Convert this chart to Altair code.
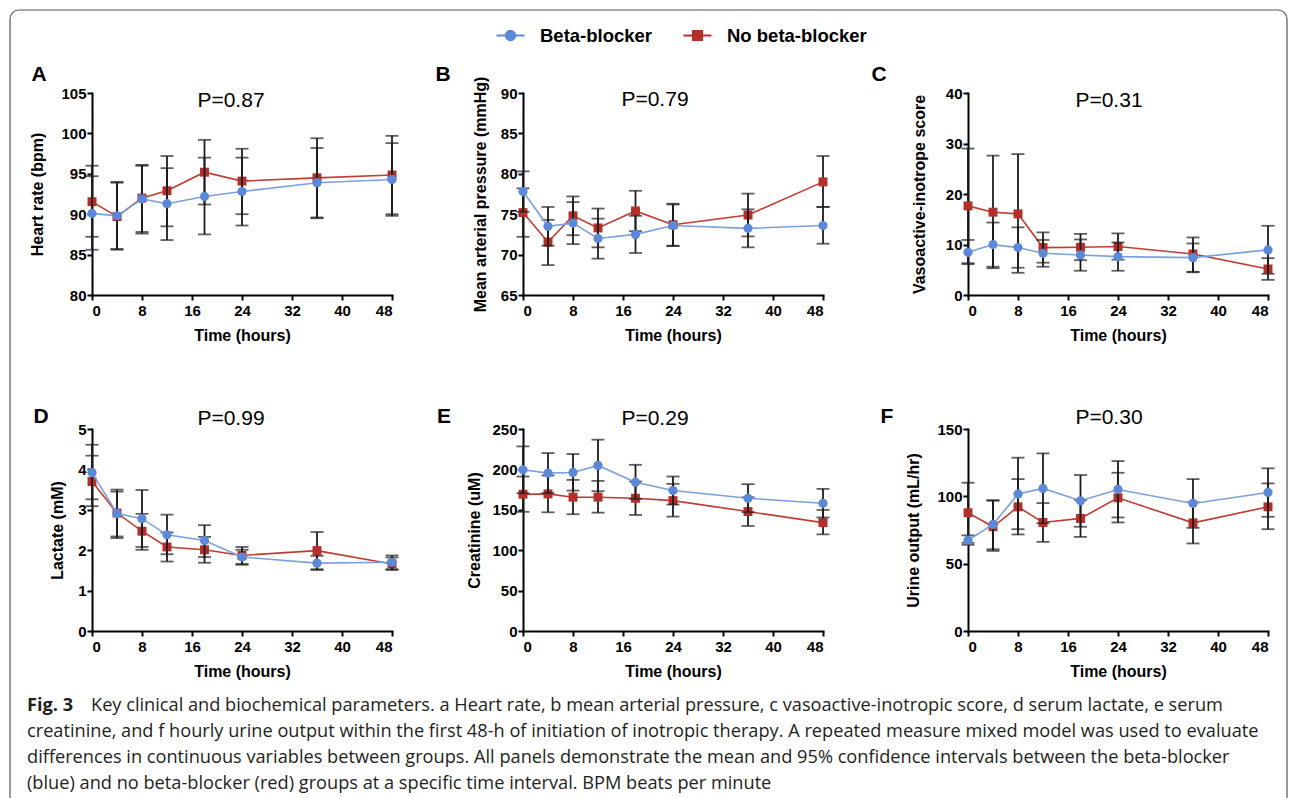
import altair as alt
import pandas as pd

TIME = [0, 4, 8, 12, 18, 24, 36, 48]
GROUPS = ["Beta-blocker", "No beta-blocker"]

# A: heart rate
hr_bb = [90.1, 89.8, 91.9, 91.3, 92.2, 92.8, 93.9, 94.3]
hr_bb_lo = [85.6, 85.7, 87.6, 86.8, 87.5, 88.6, 89.6, 89.8]
hr_bb_hi = [94.7, 93.9, 96.0, 95.7, 97.0, 97.0, 98.2, 98.8]
hr_no = [91.55, 89.7, 92.0, 92.9, 95.2, 94.1, 94.5, 94.85]
hr_no_lo = [87.2, 85.6, 87.8, 88.5, 91.2, 90.0, 89.5, 90.0]
hr_no_hi = [96.0, 94.0, 96.1, 97.2, 99.2, 98.1, 99.4, 99.7]

# B: mean arterial pressure
map_bb = [77.8, 73.5, 73.9, 72.0, 72.5, 73.6, 73.25, 73.6]
map_bb_lo = [75.3, 71.1, 71.3, 69.5, 70.2, 71.05, 70.9, 71.35]
map_bb_hi = [80.3, 75.9, 76.5, 74.45, 74.8, 76.2, 75.6, 75.9]
map_no = [75.2, 71.55, 74.8, 73.3, 75.4, 73.7, 74.9, 79.0]
map_no_lo = [72.2, 68.7, 72.4, 70.9, 72.9, 71.1, 72.25, 75.9]
map_no_hi = [78.2, 74.3, 77.2, 75.7, 77.9, 76.3, 77.55, 82.2]

# C: vasoactive-inotrope score
vis_bb = [8.46, 9.98, 9.39, 8.26, 7.93, 7.6, 7.4, 8.93]
vis_bb_lo = [6.1, 5.6, 5.4, 5.6, 4.8, 4.8, 4.5, 4.2]
vis_bb_hi = [10.9, 14.35, 13.4, 10.9, 11.0, 10.4, 10.2, 13.7]
vis_no = [17.65, 16.4, 16.07, 9.39, 9.45, 9.6, 8.13, 5.16]
vis_no_lo = [6.3, 5.3, 4.4, 6.4, 6.9, 7.0, 4.6, 3.0]
vis_no_hi = [29.0, 27.6, 27.9, 12.4, 12.1, 12.2, 11.4, 7.3]

# D: lactate
lac_bb = [3.92, 2.91, 2.78, 2.38, 2.24, 1.83, 1.68, 1.70]
lac_bb_lo = [3.26, 2.30, 2.08, 1.90, 1.83, 1.64, 1.51, 1.53]
lac_bb_hi = [4.61, 3.50, 3.49, 2.88, 2.62, 2.01, 1.86, 1.87]
lac_no = [3.70, 2.92, 2.47, 2.08, 2.01, 1.87, 1.99, 1.66]
lac_no_lo = [3.09, 2.34, 2.01, 1.72, 1.69, 1.66, 1.53, 1.51]
lac_no_hi = [4.34, 3.45, 2.90, 2.44, 2.33, 2.08, 2.45, 1.82]

# E: creatinine
cr_bb = [199.5, 195.4, 196.2, 204.9, 184.2, 173.8, 164.3, 158.1]
cr_bb_lo = [170.5, 170.6, 173.8, 173.0, 163.5, 156.5, 147.0, 140.5]
cr_bb_hi = [228.5, 220.2, 219.0, 236.8, 205.7, 191.2, 181.7, 175.9]
cr_no = [169.3, 169.7, 165.6, 165.6, 164.3, 161.4, 147.8, 134.1]
cr_no_lo = [147.5, 146.9, 144.5, 146.5, 143.6, 141.6, 130.0, 119.6]
cr_no_hi = [191.2, 192.5, 187.0, 185.8, 185.0, 182.1, 165.5, 149.8]

# F: urine output
uo_bb = [67.4, 79.1, 101.7, 105.9, 96.7, 105.1, 94.7, 102.9]
uo_bb_lo = [64.0, 60.7, 75.6, 80.0, 77.4, 84.3, 76.6, 84.8]
uo_bb_hi = [71.0, 97.2, 128.7, 131.9, 115.8, 126.2, 112.8, 120.8]
uo_no = [87.8, 77.4, 92.2, 80.6, 83.6, 98.9, 80.3, 92.2]
uo_no_lo = [65.5, 59.5, 71.7, 66.2, 69.9, 80.6, 65.0, 75.6]
uo_no_hi = [110.1, 96.7, 112.8, 95.0, 97.3, 117.5, 95.6, 109.6]

X_TICKS = [0, 8, 16, 24, 32, 40, 48]

CAPTION_FIG = "Fig. 3"
CAPTION_LINES = [
    "Key clinical and biochemical parameters. a Heart rate, b mean arterial pressure, c vasoactive-inotropic score, d serum lactate, e serum",
    "creatinine, and f hourly urine output within the first 48-h of initiation of inotropic therapy. A repeated measure mixed model was used to evaluate",
    "differences in continuous variables between groups. All panels demonstrate the mean and 95% confidence intervals between the beta-blocker",
    "(blue) and no beta-blocker (red) groups at a specific time interval. BPM beats per minute",
]

BLUE_PT = "#5b88d8"
BLUE_LN = "#7aa0e2"
RED_PT = "#b3302a"
RED_LN = "#c23b30"
ERR = "#1c1c1c"

W, H = 300, 202

LEG_PATHS = [
    "M-1,0H1M0.33,0A0.33,0.33,0,1,1,-0.33,0A0.33,0.33,0,1,1,0.33,0Z",
    "M-1,0H1M-0.32,-0.32H0.32V0.32H-0.32Z",
]


def panel(bb, bb_lo, bb_hi, no, no_lo, no_hi, ytitle, ydom, yvals, tpad,
          letter, lxy, pval, pxy, legend=False):
    df_bb = pd.DataFrame({"time": TIME, "value": bb, "lo": bb_lo, "hi": bb_hi,
                          "series": GROUPS[0]})
    df_no = pd.DataFrame({"time": TIME, "value": no, "lo": no_lo, "hi": no_hi,
                          "series": GROUPS[1]})
    xax = alt.Axis(values=X_TICKS, title="Time (hours)")
    yax = alt.Axis(values=yvals, title=ytitle, titlePadding=tpad)
    xs = alt.Scale(domain=[0, 48], nice=False)
    ys = alt.Scale(domain=ydom, nice=False, zero=False)

    def X():
        return alt.X("time:Q", scale=xs, axis=xax)

    def Y(f):
        return alt.Y(f"{f}:Q", scale=ys, axis=yax)

    def series_layers(df, ln, pt, shape, size):
        b = alt.Chart(df)
        return [
            b.mark_rule(color=ERR, strokeWidth=1.8).encode(x=X(), y=Y("lo"), y2="hi"),
            b.mark_tick(orient="horizontal", size=13, thickness=1.8, color=ERR).encode(x=X(), y=Y("lo")),
            b.mark_tick(orient="horizontal", size=13, thickness=1.8, color=ERR).encode(x=X(), y=Y("hi")),
            b.mark_line(color=ln, strokeWidth=1.6).encode(x=X(), y=Y("value")),
            b.mark_point(shape=shape, filled=True, size=size, color=pt, opacity=1).encode(x=X(), y=Y("value")),
        ]

    layers = series_layers(df_no, RED_LN, RED_PT, "square", 80)
    layers += series_layers(df_bb, BLUE_LN, BLUE_PT, "circle", 85)

    lab = alt.Chart(pd.DataFrame({"t": [letter]})).mark_text(
        font="Liberation Sans", fontWeight="bold", fontSize=21, color="black",
        align="center", baseline="middle",
    ).encode(text="t:N", x=alt.value(lxy[0]), y=alt.value(lxy[1]))
    pv = alt.Chart(pd.DataFrame({"t": [pval]})).mark_text(
        font="Liberation Sans", fontSize=21, color="black",
        align="center", baseline="middle",
    ).encode(text="t:N", x=alt.value(pxy[0]), y=alt.value(pxy[1]))
    layers += [lab, pv]

    if legend:
        df_all = pd.concat([df_bb, df_no])
        sc_color = alt.Scale(domain=GROUPS, range=[BLUE_PT, RED_PT])
        leg = alt.Legend(
            title=None, orient="none", direction="horizontal",
            legendX=403, legendY=-73, symbolOpacity=1, symbolSize=784,
            symbolStrokeWidth=2.2, labelFont="Liberation Sans",
            labelFontWeight="bold", labelFontSize=18.5, labelColor="black",
            labelOffset=14, columnPadding=26, symbolType="circle",
        )
        layers.append(
            alt.Chart(df_all).mark_point(filled=True, opacity=0).encode(
                x=X(), y=Y("value"),
                fill=alt.Fill("series:N", scale=sc_color, legend=leg),
                stroke=alt.Stroke("series:N", scale=sc_color, legend=leg),
                shape=alt.Shape("series:N", scale=alt.Scale(domain=GROUPS, range=LEG_PATHS), legend=leg),
            )
        )
    return alt.layer(*layers).properties(width=W, height=H)


A = panel(hr_bb, hr_bb_lo, hr_bb_hi, hr_no, hr_no_lo, hr_no_hi,
          "Heart rate (bpm)", [80, 105], [80, 85, 90, 95, 100, 105], 15,
          "A", (-53, -18), "P=0.87", (139, 8), legend=True)
B = panel(map_bb, map_bb_lo, map_bb_hi, map_no, map_no_lo, map_no_hi,
          "Mean arterial pressure (mmHg)", [65, 90], [65, 70, 75, 80, 85, 90], 12,
          "B", (-80, -18), "P=0.79", (132, 7))
C = panel(vis_bb, vis_bb_lo, vis_bb_hi, vis_no, vis_no_lo, vis_no_hi,
          "Vasoactive-inotrope score", [0, 40], [0, 10, 20, 30, 40], 18,
          "C", (-89, -18), "P=0.31", (141, 8))
D = panel(lac_bb, lac_bb_lo, lac_bb_hi, lac_no, lac_no_lo, lac_no_hi,
          "Lactate (mM)", [0, 5], [0, 1, 2, 3, 4, 5], 12,
          "D", (-51, -12), "P=0.99", (139, -10))
E = panel(cr_bb, cr_bb_lo, cr_bb_hi, cr_no, cr_no_lo, cr_no_hi,
          "Creatinine (uM)", [0, 250], [0, 50, 100, 150, 200, 250], 9,
          "E", (-79, -12), "P=0.29", (132, -10))
F = panel(uo_bb, uo_bb_lo, uo_bb_hi, uo_no, uo_no_lo, uo_no_hi,
          "Urine output (mL/hr)", [0, 150], [0, 50, 100, 150], 15,
          "F", (-81, -12), "P=0.30", (141, -11))


def spacer(w):
    return alt.Chart(pd.DataFrame({"a": [0]})).mark_text(text="").properties(width=w, height=10)


# caption block (row 3 of the grid, column 0); its top sits 672 px below panel A's top
CAP_H = 20
cap_df = pd.DataFrame({"idx": [0, 1, 2, 3], "text": CAPTION_LINES})
cap_df["x0"] = [-1, -65, -65, -65]
cap_scale = alt.Scale(domain=[0, 3], range=[-59, 19], nice=False, zero=False)
cap_text = alt.Chart(cap_df).mark_text(
    font="Open Sans", fontSize=18.2, color="#231f20", align="left", baseline="middle",
).encode(text="text:N", y=alt.Y("idx:Q", scale=cap_scale, axis=None),
         x=alt.X("x0:Q", scale=None, axis=None))
cap_fig = alt.Chart(pd.DataFrame({"idx": [0], "text": [CAPTION_FIG]})).mark_text(
    font="Open Sans", fontSize=18.2, fontWeight="bold", color="#231f20",
    align="left", baseline="middle",
).encode(text="text:N", y=alt.Y("idx:Q", scale=cap_scale, axis=None), x=alt.value(-65))
frame = alt.Chart(pd.DataFrame({"k": [0]})).mark_rect(
    filled=False, stroke="#555555", strokeWidth=1.2, cornerRadius=9,
).encode(x=alt.value(-82), x2=alt.value(1195), y=alt.value(-755), y2=alt.value(45))
caption = alt.layer(frame, cap_text, cap_fig).properties(width=300, height=CAP_H)

chart = alt.concat(
    A, spacer(131), B, spacer(145), C,
    D, spacer(131), E, spacer(145), F,
    caption,
    columns=5, bounds="flush", spacing={"row": 134, "column": 0},
).properties(
    padding={"left": 9, "top": 9, "right": 0, "bottom": 0},
    autosize=alt.AutoSizeParams(type="pad"),
    background="white",
).configure_axis(
    labelFont="Liberation Sans", labelFontWeight="bold", labelFontSize=15,
    labelColor="black", titleFont="Liberation Sans", titleFontWeight="bold",
    titleFontSize=16, titleColor="black", domainColor="black", domainWidth=2,
    tickColor="black", tickWidth=2, tickSize=5, grid=False, labelPadding=1,
    domainCap="square",
).configure_axisX(
    labelAngle=0, labelPadding=3, titlePadding=9,
).configure_view(strokeWidth=0)

chart.save("out.html", embed_options={"renderer": "svg", "actions": False})
